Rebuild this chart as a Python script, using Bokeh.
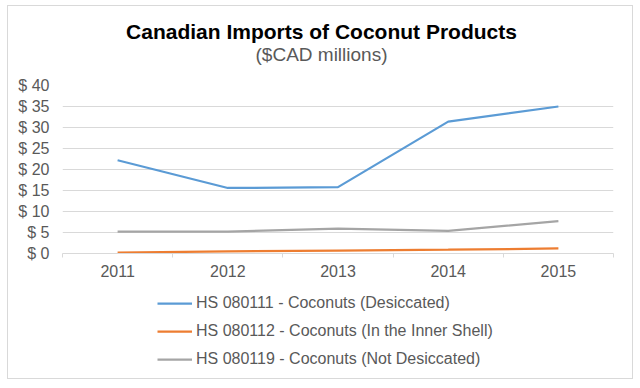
from bokeh.plotting import figure
from bokeh.layouts import column
from bokeh.models import (FixedTicker, PrintfTickFormatter, CustomJSTickFormatter,
                          Legend, LegendItem, Label, ColumnDataSource, Range1d)
from bokeh.embed import file_html
from bokeh.resources import INLINE

years = ["2011", "2012", "2013", "2014", "2015"]
desiccated = [22.2, 15.6, 15.8, 31.4, 35.0]
inner_shell = [0.2, 0.5, 0.7, 0.9, 1.2]
not_desiccated = [5.2, 5.2, 5.9, 5.4, 7.7]
series_names = ["HS 080111 - Coconuts (Desiccated)",
                "HS 080112 - Coconuts (In the Inner Shell)",
                "HS 080119 - Coconuts (Not Desiccated)"]
colors = ["#5b9bd5", "#ed7d31", "#a5a5a5"]
y_ticks = [0, 5, 10, 15, 20, 25, 30, 35, 40]
title_text = "Canadian Imports of Coconut Products"
subtitle_text = "($CAD millions)"

xpos = [i + 0.5 for i in range(len(years))]
series = [desiccated, inner_shell, not_desiccated]

FONT = "Liberation Sans"
GREY_TXT = "#595959"
GRID = "#d9d9d9"
W = 624


def bare(fig):
    fig.outline_line_color = None
    fig.background_fill_color = "white"
    fig.border_fill_color = "white"
    return fig


# ---------- header (titles) ----------
head = bare(figure(width=W, height=62, output_backend="svg", toolbar_location=None,
                   x_range=Range1d(0, 1), y_range=Range1d(0, 1),
                   min_border=0, x_axis_type=None, y_axis_type=None))
head.xgrid.visible = False
head.ygrid.visible = False
head.add_layout(Label(x=259, y=37, x_units="screen", y_units="screen", text=title_text,
                      text_align="center", text_baseline="middle", text_font=FONT,
                      text_font_style="bold", text_font_size="21px", text_color="black"))
head.add_layout(Label(x=259, y=14, x_units="screen", y_units="screen", text=subtitle_text,
                      text_align="center", text_baseline="middle", text_font=FONT,
                      text_font_size="19px", text_color=GREY_TXT))

# ---------- chart ----------
p = bare(figure(width=W, height=217, output_backend="svg", toolbar_location=None,
                x_range=Range1d(0, len(years)), y_range=Range1d(0, 40),
                min_border_left=54, min_border_right=19, min_border_top=17,
                min_border_bottom=32))

for vals, col in zip(series, colors):
    src = ColumnDataSource(dict(x=xpos, y=vals))
    p.line("x", "y", source=src, line_color=col, line_width=2.25)

xa = p.xaxis[0]
xa.ticker = FixedTicker(ticks=xpos, minor_ticks=list(range(len(years) + 1)))
xa.formatter = CustomJSTickFormatter(args=dict(labels=years),
                                     code="const i = Math.floor(tick); return (i >= 0 && i < labels.length) ? labels[i] : '';")
xa.axis_line_color = GRID
xa.major_tick_line_color = None
xa.major_tick_out = 0
xa.major_tick_in = 0
xa.minor_tick_line_color = GRID
xa.minor_tick_out = 4
xa.minor_tick_in = 0
xa.major_label_standoff = 7
xa.major_label_text_font = FONT
xa.major_label_text_font_size = "16px"
xa.major_label_text_color = GREY_TXT

ya = p.yaxis[0]
ya.ticker = FixedTicker(ticks=y_ticks)
ya.formatter = PrintfTickFormatter(format="$ %d")
ya.axis_line_color = None
ya.major_tick_line_color = None
ya.minor_tick_line_color = None
ya.major_tick_out = 0
ya.major_tick_in = 0
ya.major_label_standoff = 13
ya.major_label_text_font = FONT
ya.major_label_text_font_size = "16px"
ya.major_label_text_color = GREY_TXT

p.xgrid.grid_line_color = None
p.ygrid.ticker = FixedTicker(ticks=y_ticks)
p.ygrid.grid_line_color = GRID
p.ygrid.grid_line_width = 1

# ---------- legend strip ----------
leg = bare(figure(width=W, height=93, output_backend="svg", toolbar_location=None,
                  x_range=Range1d(0, len(years)), y_range=Range1d(1000, 1001),
                  min_border=0, x_axis_type=None, y_axis_type=None))
leg.xgrid.visible = False
leg.ygrid.visible = False
leg_renderers = []
for vals, col in zip(series, colors):
    src = ColumnDataSource(dict(x=xpos, y=vals))
    leg_renderers.append(leg.line("x", "y", source=src, line_color=col, line_width=2.25))

legend = Legend(items=[LegendItem(label=n, renderers=[r]) for n, r in zip(series_names, leg_renderers)],
                location=(95, 9), orientation="vertical",
                glyph_width=35, glyph_height=20, label_height=20, spacing=8,
                label_standoff=4, padding=0, margin=0,
                label_text_font=FONT, label_text_font_size="16px", label_text_color=GREY_TXT,
                border_line_color=None, background_fill_alpha=0)
leg.add_layout(legend)

layout = column(head, p, leg, spacing=0)
layout.styles = {"border": "1px solid #d9d9d9", "margin-top": "5px", "margin-left": "7px"}

open("out.html", "w").write(file_html(layout, INLINE))
